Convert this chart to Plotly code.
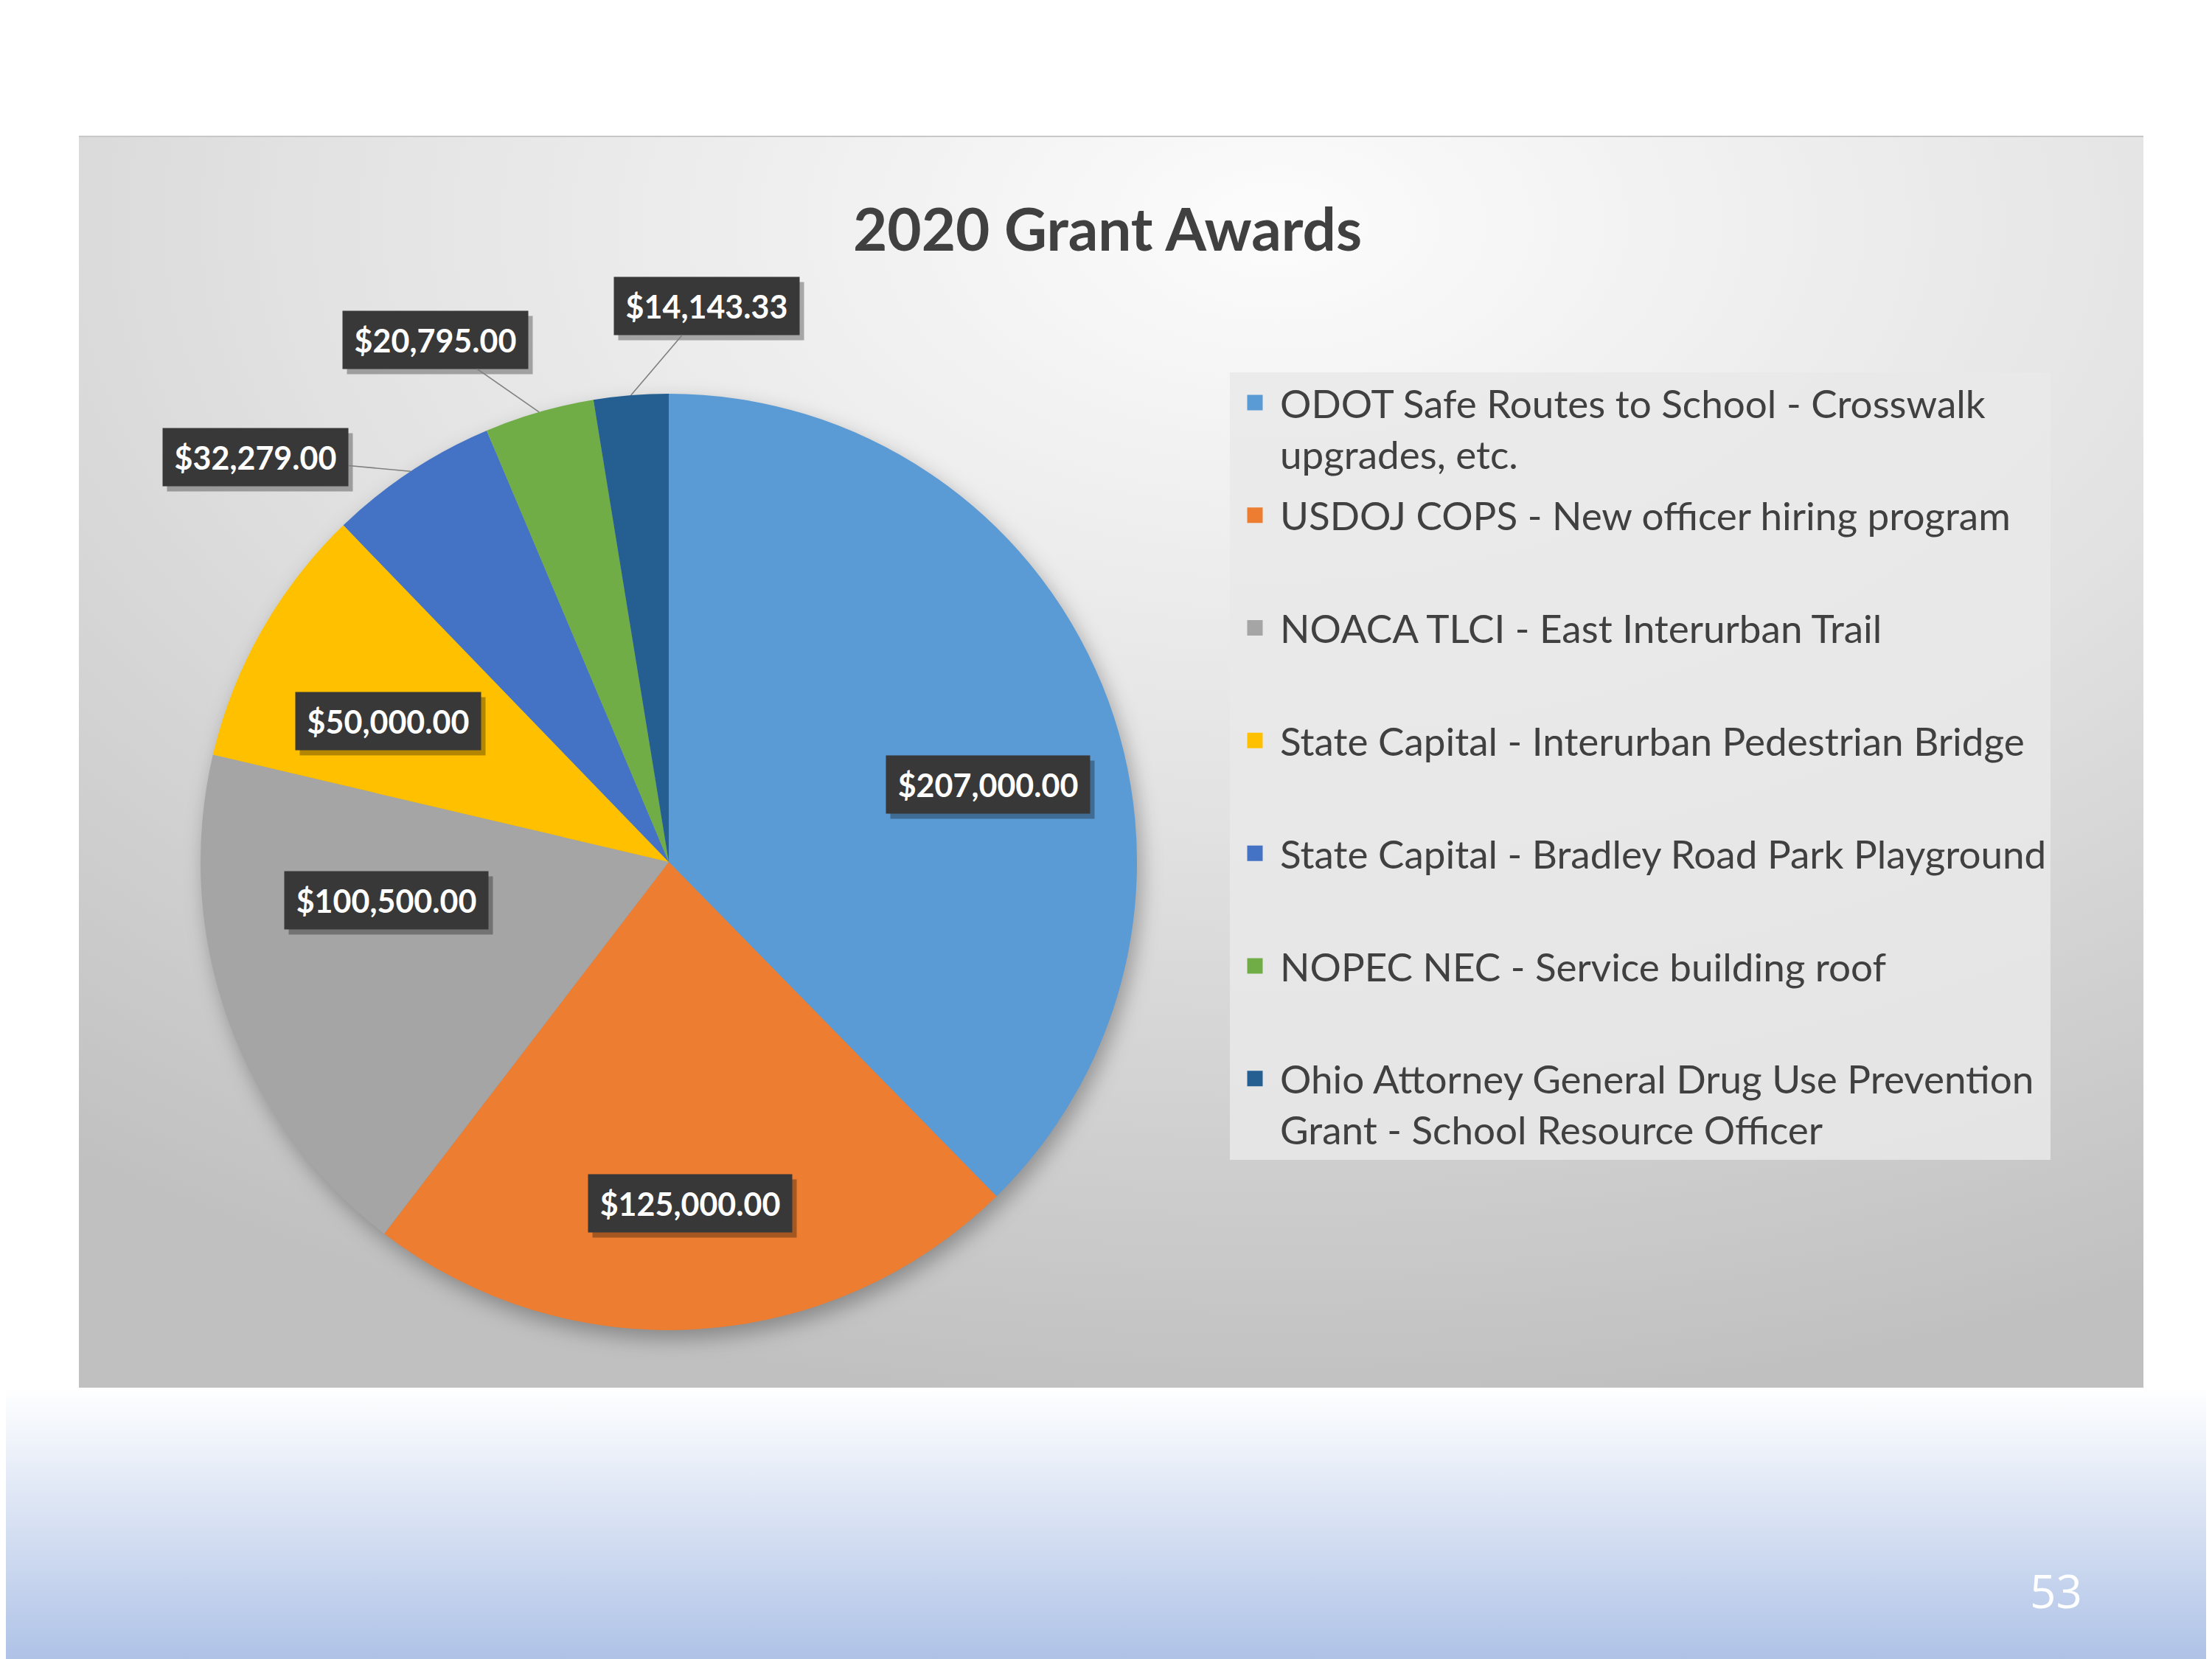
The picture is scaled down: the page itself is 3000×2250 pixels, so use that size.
import math
import base64
import plotly.graph_objects as go

W, H = 3000, 2250

# data
labels = [
    'ODOT Safe Routes to School - Crosswalk<br>upgrades, etc.',
    'USDOJ COPS - New officer hiring program',
    'NOACA TLCI - East Interurban Trail',
    'State Capital - Interurban Pedestrian Bridge',
    'State Capital - Bradley Road Park Playground',
    'NOPEC NEC - Service building roof',
    'Ohio Attorney General Drug Use Prevention<br>Grant - School Resource Officer',
]
values = [207000, 125000, 100500, 50000, 32279, 20795, 14143.33]
colors = ['#5B9BD5', '#ED7D31', '#A5A5A5', '#FFC000', '#4472C4', '#70AD47', '#255E91']

# layout constants (pixels on the 3000x2250 page)
pie_cx, pie_cy, pie_r = 899, 1161, 635
inside_frac = 0.70
# pixel nudges of the inside labels (Excel "best fit" placement)
inside_nudges = {0: (22, 63), 1: (2, 19), 2: (36, -98), 3: (6, 29)}
# pixel offsets of the outside labels (the three small slices)
outside_offsets = {4: (-210, -19), 5: (-141, -98), 6: (103, -121)}

FONT = 'Lato'
TEXT_GRAY = '#404040'
LABEL_SIZE = 43
LABEL_BG = '#383838'


def px(x):
    return x / W


def py(y):
    return 1 - y / H


def label_width(s):
    digits = sum(ch.isdigit() or ch == '$' for ch in s)
    return round(LABEL_SIZE * (0.58 * digits + 0.27 * (len(s) - digits))) + 6


# background: white slide, blue gradient footer, grey radial chart area, pie shadow
bg_svg = f'''<svg xmlns="http://www.w3.org/2000/svg" width="{W}" height="{H}" viewBox="0 0 {W} {H}">
<defs>
<linearGradient id="page" x1="0" y1="0" x2="0" y2="1">
<stop offset="0" stop-color="#ffffff"/><stop offset="1" stop-color="#adc1e6"/></linearGradient>
<radialGradient id="area" cx="0.58" cy="0.07" r="0.95" fx="0.58" fy="0.07">
<stop offset="0" stop-color="#fcfcfc"/><stop offset="0.5" stop-color="#e2e2e2"/><stop offset="1" stop-color="#c0c0c0"/></radialGradient>
<filter id="blur" x="-20%" y="-20%" width="140%" height="140%"><feGaussianBlur stdDeviation="14"/></filter>
</defs>
<rect x="0" y="0" width="{W}" height="{H}" fill="#ffffff"/>
<rect x="0" y="1874" width="{W}" height="{H - 1874}" fill="url(#page)"/>
<rect x="99" y="176" width="2800" height="1698" fill="url(#area)"/>
<line x1="99" y1="177" x2="2899" y2="177" stroke="#c8c8c8" stroke-width="2"/>
<circle cx="{pie_cx + 6}" cy="{pie_cy + 12}" r="{pie_r}" fill="#000" fill-opacity="0.30" filter="url(#blur)"/>
</svg>'''
bg_uri = 'data:image/svg+xml;base64,' + base64.b64encode(bg_svg.encode()).decode()

fig = go.Figure()

fig.add_trace(go.Pie(
    labels=labels,
    values=values,
    sort=False,
    direction='clockwise',
    rotation=0,
    marker=dict(colors=colors, line=dict(width=0)),
    textinfo='none',
    showlegend=False,
    domain=dict(x=[px(pie_cx - pie_r), px(pie_cx + pie_r)],
                y=[py(pie_cy + pie_r), py(pie_cy - pie_r)]),
))

# legend entries with larger square swatches
for i, (lab, c) in enumerate(zip(labels, colors)):
    name = lab if '<br>' in lab else lab + '<br> '
    fig.add_trace(go.Scatter(
        x=[None], y=[None], mode='markers', name=name,
        legendgroup=str(i),
        marker=dict(symbol='square', size=16, color=c, line=dict(color=c, width=5)),
    ))

# data labels: black boxes, placed from the slice mid angles
total = sum(values)
annotations = []
cum = 0
for i, v in enumerate(values):
    mid = (cum + v / 2) / total * 2 * math.pi
    cum += v
    txt = '${:,.2f}'.format(v)
    bw = label_width(txt)
    bh = round(LABEL_SIZE * 1.3)
    font = dict(family=FONT, size=LABEL_SIZE, color='white', weight='bold')
    if i in outside_offsets:
        hx = pie_cx + pie_r * math.sin(mid)
        hy = pie_cy - pie_r * math.cos(mid)
        ox, oy = outside_offsets[i]
        lx, ly = hx + ox, hy + oy
    else:
        nx, ny = inside_nudges.get(i, (0, 0))
        lx = pie_cx + inside_frac * pie_r * math.sin(mid) + nx
        ly = pie_cy - inside_frac * pie_r * math.cos(mid) + ny
    # drop shadow behind the box
    annotations.append(dict(
        x=px(lx), y=py(ly), xref='paper', yref='paper', text=' ', showarrow=False,
        xanchor='center', yanchor='middle', width=bw, height=bh,
        bgcolor='rgba(0,0,0,0.30)', borderpad=11, xshift=6, yshift=-7,
    ))
    if i in outside_offsets:
        annotations.append(dict(
            x=px(hx), y=py(hy), xref='paper', yref='paper', text=txt,
            showarrow=True, arrowhead=0, arrowwidth=1.6, arrowcolor='#808080',
            ax=ox, ay=oy, axref='pixel', ayref='pixel', standoff=0,
            xanchor='center', yanchor='middle', width=bw, height=bh,
            font=font, bgcolor=LABEL_BG, borderpad=11,
        ))
    else:
        annotations.append(dict(
            x=px(lx), y=py(ly), xref='paper', yref='paper', text=txt, showarrow=False,
            xanchor='center', yanchor='middle', width=bw, height=bh,
            font=font, bgcolor=LABEL_BG, borderpad=11,
        ))

# slide number
annotations.append(dict(
    x=px(2780), y=py(2149), xref='paper', yref='paper', text='53', showarrow=False,
    xanchor='center', yanchor='middle',
    font=dict(family='Open Sans', size=62, color='white'),
))

fig.update_layout(
    width=W, height=H,
    margin=dict(l=0, r=0, t=0, b=0),
    paper_bgcolor='white',
    plot_bgcolor='rgba(0,0,0,0)',
    xaxis=dict(visible=False),
    yaxis=dict(visible=False),
    images=[dict(source=bg_uri, xref='paper', yref='paper', x=0, y=1,
                 sizex=1, sizey=1, xanchor='left', yanchor='top',
                 sizing='stretch', layer='below')],
    title=dict(text='2020 Grant Awards', x=px(1494), y=py(304),
               xanchor='center', yanchor='middle',
               font=dict(family=FONT, size=80, color=TEXT_GRAY, weight='bold')),
    legend=dict(x=px(1660), y=py(497), xanchor='left', yanchor='top',
                bgcolor='rgba(233,233,233,0.85)', borderwidth=0,
                font=dict(family=FONT, size=53, color=TEXT_GRAY),
                valign='top', traceorder='grouped', tracegroupgap=12,
                itemwidth=58,
                itemclick=False, itemdoubleclick=False),
    annotations=annotations,
)

fig.write_html('out.html')
